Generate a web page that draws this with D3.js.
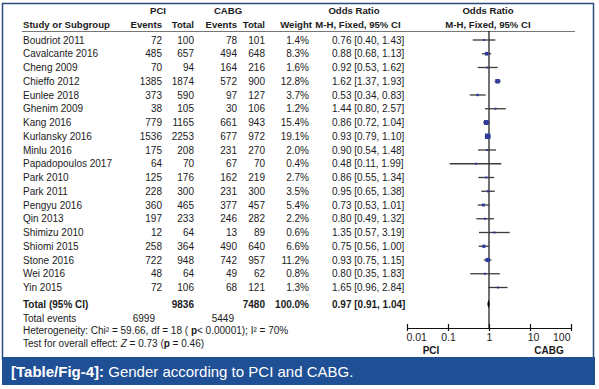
<!DOCTYPE html>
<html>
<head>
<meta charset="utf-8">
<script src="https://cdn.jsdelivr.net/npm/d3@7"></script>
<style>
body { margin: 0; background: #fff; }
text { font-family: "Liberation Sans", Arial, sans-serif; fill: #1b1b1b; }
</style>
</head>
<body>
<script>
var width = 599;
var height = 389;

// study rows
var studies = ["Boudriot 2011", "Cavalcante 2016", "Cheng 2009", "Chieffo 2012", "Eunlee 2018",
    "Ghenim 2009", "Kang 2016", "Kurlansky 2016", "Minlu 2016", "Papadopoulos 2017",
    "Park 2010", "Park 2011", "Pengyu 2016", "Qin 2013", "Shimizu 2010", "Shiomi 2015",
    "Stone 2016", "Wei 2016", "Yin 2015"];
var pciEvents = [72, 485, 70, 1385, 373, 38, 779, 1536, 175, 64, 125, 228, 360, 197, 12, 258, 722, 48, 72];
var pciTotal = [100, 657, 94, 1874, 590, 105, 1165, 2253, 208, 70, 176, 300, 465, 233, 64, 364, 948, 64, 106];
var cabgEvents = [78, 494, 164, 572, 97, 30, 661, 677, 231, 67, 162, 231, 377, 246, 13, 490, 742, 49, 68];
var cabgTotal = [101, 648, 216, 900, 127, 106, 943, 972, 270, 70, 219, 300, 457, 282, 89, 640, 957, 62, 121];
var weights = [1.4, 8.3, 1.6, 12.8, 3.7, 1.2, 15.4, 19.1, 2.0, 0.4, 2.7, 3.5, 5.4, 2.2, 0.6, 6.6, 11.2, 0.8, 1.3];
var oddsRatio = [0.76, 0.88, 0.92, 1.62, 0.53, 1.44, 0.86, 0.93, 0.90, 0.48, 0.86, 0.95, 0.73, 0.80, 1.35, 0.75, 0.93, 0.80, 1.65];
var ciLow = [0.40, 0.68, 0.53, 1.37, 0.34, 0.80, 0.72, 0.79, 0.54, 0.11, 0.55, 0.65, 0.53, 0.49, 0.57, 0.56, 0.75, 0.35, 0.96];
var ciHigh = [1.43, 1.13, 1.62, 1.93, 0.83, 2.57, 1.04, 1.10, 1.48, 1.99, 1.34, 1.38, 1.01, 1.32, 3.19, 1.00, 1.15, 1.83, 2.84];

// pooled result
var totals = { pci: 9836, cabg: 7480, weight: "100.0%", or: 0.97, lo: 0.91, hi: 1.04 };
var totalEvents = [6999, 5449];

var axisTicks = [0.01, 0.1, 1, 10, 100];
var axisLabels = ["0.01", "0.1", "1", "10", "100"];

var fmt = d3.format(".2f");

var svg = d3.select("body")
    .append("svg")
    .attr("width", width)
    .attr("height", height);

// frame + caption bar
svg.append("rect")
    .attr("x", 2.5).attr("y", 3.5)
    .attr("width", 591).attr("height", 356)
    .attr("fill", "none")
    .attr("stroke", "#2b4b78")
    .attr("stroke-width", 1.5);

svg.append("rect")
    .attr("x", 2).attr("y", 357)
    .attr("width", 593).attr("height", 28)
    .attr("fill", "#1f4f95");

var cap = svg.append("text")
    .attr("x", 11).attr("y", 377)
    .style("font-size", "15px");
cap.append("tspan").attr("font-weight", "bold").style("fill", "#fff").text("[Table/Fig-4]:");
cap.append("tspan").style("fill", "#fff").text(" Gender according to PCI and CABG.");

var x = d3.scaleLog().domain([0.01, 100]).range([407, 571]);
var rowY = d3.scaleLinear().domain([0, studies.length - 1]).range([40, 287.5]);

var g = svg.append("g").style("font-size", "10px");

// header
function head(txt, xx, yy, anchor) {
    g.append("text")
        .attr("x", xx).attr("y", yy)
        .attr("text-anchor", anchor)
        .attr("font-weight", "bold")
        .style("font-size", "9.6px")
        .text(txt);
}
head("PCI", 158, 14, "middle");
head("CABG", 228, 14, "middle");
head("Odds Ratio", 354, 14, "middle");
head("Odds Ratio", 488, 14, "middle");
head("Study or Subgroup", 23, 28, "start");
head("Events", 162, 28, "end");
head("Total", 194, 28, "end");
head("Events", 237, 28, "end");
head("Total", 265, 28, "end");
head("Weight", 312, 28, "end");
head("M-H, Fixed, 95% CI", 358, 28, "middle");
head("M-H, Fixed, 95% CI", 488, 28, "middle");

g.append("line")
    .attr("x1", 22).attr("x2", 575)
    .attr("y1", 31.5).attr("y2", 31.5)
    .attr("stroke", "#777")
    .attr("stroke-width", 1);

// table rows
var rows = g.selectAll("g.row")
    .data(studies)
    .enter()
    .append("g")
    .attr("class", "row")
    .attr("transform", function(d, i) { return "translate(0," + (rowY(i) + 3.5) + ")"; });

rows.append("text").attr("x", 23).text(function(d) { return d; });
rows.append("text").attr("x", 162).attr("text-anchor", "end").text(function(d, i) { return pciEvents[i]; });
rows.append("text").attr("x", 194).attr("text-anchor", "end").text(function(d, i) { return pciTotal[i]; });
rows.append("text").attr("x", 237).attr("text-anchor", "end").text(function(d, i) { return cabgEvents[i]; });
rows.append("text").attr("x", 265).attr("text-anchor", "end").text(function(d, i) { return cabgTotal[i]; });
rows.append("text").attr("x", 309).attr("text-anchor", "end").text(function(d, i) { return weights[i].toFixed(1) + "%"; });
rows.append("text").attr("x", 332).text(function(d, i) {
    return fmt(oddsRatio[i]) + " [" + fmt(ciLow[i]) + ", " + fmt(ciHigh[i]) + "]";
});

// total row
var yTot = 304;
var tr = g.append("g").attr("transform", "translate(0," + (yTot + 3.5) + ")").attr("font-weight", "bold");
tr.append("text").attr("x", 23).text("Total (95% CI)");
tr.append("text").attr("x", 194).attr("text-anchor", "end").text(totals.pci);
tr.append("text").attr("x", 265).attr("text-anchor", "end").text(totals.cabg);
tr.append("text").attr("x", 309).attr("text-anchor", "end").text(totals.weight);
tr.append("text").attr("x", 332).text(fmt(totals.or) + " [" + fmt(totals.lo) + ", " + fmt(totals.hi) + "]");

g.append("text").attr("x", 23).attr("y", 321.5).text("Total events");
g.append("text").attr("x", 155).attr("y", 321.5).attr("text-anchor", "end").text(totalEvents[0]);
g.append("text").attr("x", 234).attr("y", 321.5).attr("text-anchor", "end").text(totalEvents[1]);

var het = g.append("text").attr("x", 23).attr("y", 334);
het.append("tspan").text("Heterogeneity: Chi\u00b2 = 59.66, df = 18 (");
het.append("tspan").attr("font-weight", "bold").text(" p");
het.append("tspan").text("< 0.00001); I\u00b2 = 70%");

var tst = g.append("text").attr("x", 23).attr("y", 346.5);
tst.append("tspan").text("Test for overall effect: ");
tst.append("tspan").attr("font-style", "italic").text("Z");
tst.append("tspan").text(" = 0.73 (");
tst.append("tspan").attr("font-weight", "bold").text("p");
tst.append("tspan").text(" = 0.46)");

// forest plot
var axisY = 328;
svg.append("line")
    .attr("x1", x(1)).attr("x2", x(1))
    .attr("y1", 31).attr("y2", axisY)
    .attr("stroke", "#111")
    .attr("stroke-width", 1.2);

var plot = svg.append("g");
plot.selectAll("line.ci")
    .data(studies)
    .enter()
    .append("line")
    .attr("class", "ci")
    .attr("x1", function(d, i) { return x(ciLow[i]); })
    .attr("x2", function(d, i) { return x(ciHigh[i]); })
    .attr("y1", function(d, i) { return rowY(i); })
    .attr("y2", function(d, i) { return rowY(i); })
    .attr("stroke", "#3a3a3a")
    .attr("stroke-width", 1.3);

plot.selectAll("rect.box")
    .data(studies)
    .enter()
    .append("rect")
    .attr("class", "box")
    .each(function(d, i) {
        var s = Math.max(2, Math.sqrt(weights[i]) * 1.25);
        d3.select(this)
            .attr("x", x(oddsRatio[i]) - s / 2)
            .attr("y", rowY(i) - s / 2)
            .attr("width", s)
            .attr("height", s);
    })
    .attr("fill", "#2d3b9c");

// pooled diamond
plot.append("path")
    .attr("d", "M" + x(totals.lo) + "," + yTot +
        "L" + x(totals.or) + "," + (yTot - 4.5) +
        "L" + x(totals.hi) + "," + yTot +
        "L" + x(totals.or) + "," + (yTot + 4.5) + "Z")
    .attr("fill", "#000");

var axis = d3.axisBottom(x)
    .tickValues(axisTicks)
    .tickFormat(function(d, i) { return axisLabels[i]; })
    .tickSizeOuter(0);

var ax = svg.append("g")
    .attr("transform", "translate(0," + axisY + ")")
    .call(axis);
ax.select(".domain").attr("stroke", "#111").attr("stroke-width", 1.2);
ax.selectAll(".tick line").attr("y1", -4).attr("y2", 3).attr("stroke", "#111").attr("stroke-width", 1.2);
ax.selectAll(".tick text")
    .attr("y", 6)
    .attr("text-anchor", function(d, i) { return i === 0 ? "start" : (i === axisTicks.length - 1 ? "end" : "middle"); })
    .attr("dx", function(d, i) { return i === 0 ? -1 : (i === 3 ? 3 : (i === 4 ? -1 : 0)); })
    .style("font-size", "10.5px")
    .style("font-family", "'Liberation Sans', Arial, sans-serif")
    .attr("fill", "#1b1b1b");

svg.append("text").attr("x", 431).attr("y", 354).attr("text-anchor", "middle")
    .attr("font-weight", "bold").style("font-size", "10px").text("PCI");
svg.append("text").attr("x", 549).attr("y", 354).attr("text-anchor", "middle")
    .attr("font-weight", "bold").style("font-size", "10px").text("CABG");
</script>
</body>
</html>
